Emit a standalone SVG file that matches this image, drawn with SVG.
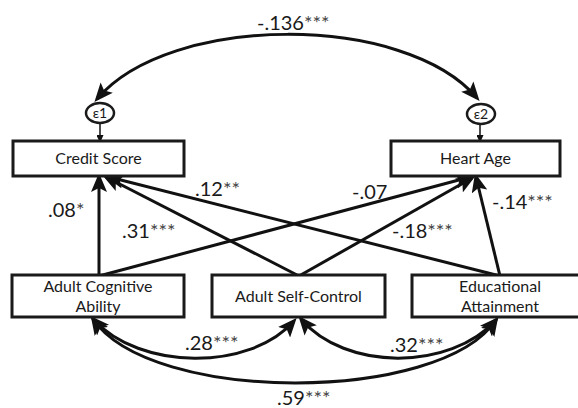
<svg xmlns="http://www.w3.org/2000/svg" width="578" height="408" viewBox="0 0 578 408">
<style>
  .box { fill: #fff; stroke: #1a1a1a; stroke-width: 3; }
  .nt { font-family: Lato, "Open Sans", "Liberation Sans", sans-serif; font-size: 16px; fill: #1a1a1a; text-anchor: middle; }
  .lb { font-family: Lato, "Open Sans", "Liberation Sans", sans-serif; font-size: 20px; fill: #1a1a1a; }
  .st { fill: #444; }
  .eps { fill: #fff; stroke: #1a1a1a; stroke-width: 2.5; }
  .et { font-family: Lato, "Liberation Sans", sans-serif; font-size: 14px; fill: #1a1a1a; text-anchor: middle; }
  .ln { fill: none; stroke: #111; stroke-width: 3; }
  .sm { fill: none; stroke: #111; stroke-width: 1.5; }
</style>
<defs>
  <marker id="ah" markerUnits="userSpaceOnUse" markerWidth="20" markerHeight="16" viewBox="0 0 20 16" refX="15" refY="8" orient="auto-start-reverse">
    <path d="M0,0 L19,8 L0,16 L4,8 z" fill="#111"/>
  </marker>
  <marker id="as" markerUnits="userSpaceOnUse" markerWidth="8" markerHeight="7" viewBox="0 0 8 7" refX="6" refY="3.5" orient="auto">
    <path d="M0,0 L8,3.5 L0,7 z" fill="#111"/>
  </marker>
</defs>

<g id="connectors">
  <!-- residual covariance -->
  <path class="ln" d="M97,99 C170,13 405,13 477,98" marker-start="url(#ah)" marker-end="url(#ah)"/>
  <!-- residual arrows -->
  <line class="sm" x1="100" y1="123" x2="100" y2="141" marker-end="url(#as)"/>
  <line class="sm" x1="480" y1="124" x2="480" y2="141" marker-end="url(#as)"/>
  <!-- paths to Credit Score -->
  <line class="ln" x1="99" y1="276" x2="99" y2="177" marker-end="url(#ah)"/>
  <line class="ln" x1="299" y1="276" x2="106" y2="177" marker-end="url(#ah)"/>
  <line class="ln" x1="500" y1="276" x2="109" y2="177" marker-end="url(#ah)"/>
  <!-- paths to Heart Age -->
  <line class="ln" x1="99" y1="276" x2="470" y2="177" marker-end="url(#ah)"/>
  <line class="ln" x1="299" y1="276" x2="472" y2="178" marker-end="url(#ah)"/>
  <line class="ln" x1="500" y1="276" x2="476" y2="177" marker-end="url(#ah)"/>
  <!-- predictor covariances -->
  <path class="ln" d="M93,319 C140,371 250,371 294,321" marker-start="url(#ah)" marker-end="url(#ah)"/>
  <path class="ln" d="M301,319 C345,371 450,371 496,320" marker-start="url(#ah)" marker-end="url(#ah)"/>
  <path class="ln" d="M93,319 C150,404 440,404 496,320" marker-start="url(#ah)" marker-end="url(#ah)"/>
</g>

<g id="e1">
  <ellipse class="eps" cx="100" cy="113" rx="14" ry="10"/>
  <text class="et" x="100" y="118">ε1</text>
</g>
<g id="e2">
  <ellipse class="eps" cx="481" cy="114" rx="14" ry="10"/>
  <text class="et" x="481" y="119">ε2</text>
</g>

<g id="credit-score">
  <rect class="box" x="13" y="141" width="171" height="35"/>
  <text class="nt" x="98.5" y="164">Credit Score</text>
</g>
<g id="heart-age">
  <rect class="box" x="391" y="141" width="169" height="35"/>
  <text class="nt" x="475.5" y="164">Heart Age</text>
</g>
<g id="cognitive">
  <rect class="box" x="12" y="275" width="172" height="42"/>
  <text class="nt" x="98" y="292">Adult Cognitive</text>
  <text class="nt" x="98" y="312">Ability</text>
</g>
<g id="self-control">
  <rect class="box" x="212" y="275" width="173" height="42"/>
  <text class="nt" x="298.5" y="302">Adult Self-Control</text>
</g>
<g id="education">
  <rect class="box" x="412" y="275" width="176" height="42"/>
  <text class="nt" x="500" y="292">Educational</text>
  <text class="nt" x="500" y="312">Attainment</text>
</g>

<g id="labels">
  <text class="lb" x="257" y="30">-.136<tspan class="st">***</tspan></text>
  <text class="lb" x="48" y="217">.08<tspan class="st">*</tspan></text>
  <text class="lb" x="195" y="196">.12<tspan class="st">**</tspan></text>
  <text class="lb" x="122" y="238">.31<tspan class="st">***</tspan></text>
  <text class="lb" x="352" y="199">-.07</text>
  <text class="lb" x="392" y="238">-.18<tspan class="st">***</tspan></text>
  <text class="lb" x="492" y="209">-.14<tspan class="st">***</tspan></text>
  <text class="lb" x="185" y="350">.28<tspan class="st">***</tspan></text>
  <text class="lb" x="390" y="352">.32<tspan class="st">***</tspan></text>
  <text class="lb" x="277" y="405">.59<tspan class="st">***</tspan></text>
</g>
</svg>
